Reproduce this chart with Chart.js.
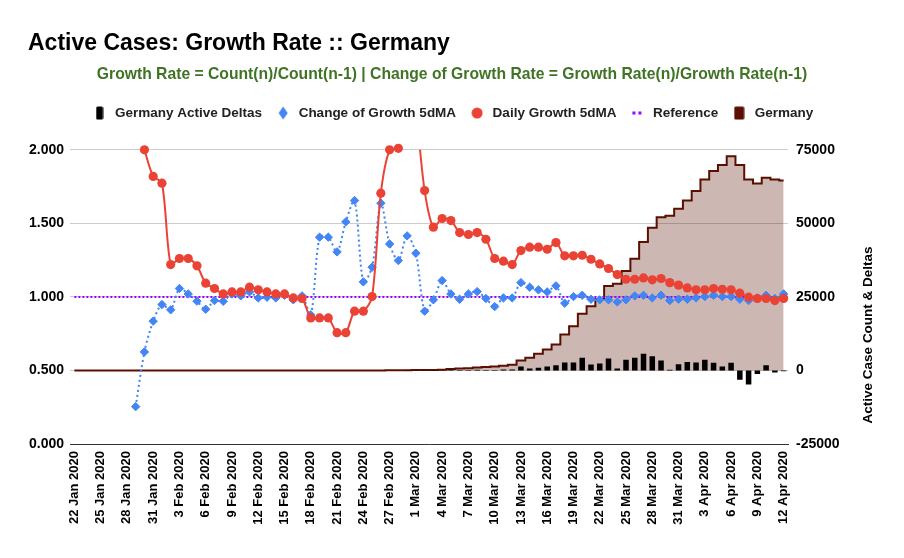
<!DOCTYPE html>
<html><head><meta charset="utf-8">
<script src="https://cdn.jsdelivr.net/npm/chart.js@4.4.1/dist/chart.umd.min.js"></script>
<style>html,body{margin:0;padding:0;background:#fff;}canvas{display:block;}</style>
</head><body>
<canvas id="c" width="904" height="558"></canvas>
<script>
const categories = [
'22 Jan 2020','23 Jan 2020','24 Jan 2020','25 Jan 2020','26 Jan 2020','27 Jan 2020','28 Jan 2020','29 Jan 2020','30 Jan 2020','31 Jan 2020',
'1 Feb 2020','2 Feb 2020','3 Feb 2020','4 Feb 2020','5 Feb 2020','6 Feb 2020','7 Feb 2020','8 Feb 2020','9 Feb 2020','10 Feb 2020',
'11 Feb 2020','12 Feb 2020','13 Feb 2020','14 Feb 2020','15 Feb 2020','16 Feb 2020','17 Feb 2020','18 Feb 2020','19 Feb 2020','20 Feb 2020',
'21 Feb 2020','22 Feb 2020','23 Feb 2020','24 Feb 2020','25 Feb 2020','26 Feb 2020','27 Feb 2020','28 Feb 2020','29 Feb 2020',
'1 Mar 2020','2 Mar 2020','3 Mar 2020','4 Mar 2020','5 Mar 2020','6 Mar 2020','7 Mar 2020','8 Mar 2020','9 Mar 2020','10 Mar 2020',
'11 Mar 2020','12 Mar 2020','13 Mar 2020','14 Mar 2020','15 Mar 2020','16 Mar 2020','17 Mar 2020','18 Mar 2020','19 Mar 2020','20 Mar 2020',
'21 Mar 2020','22 Mar 2020','23 Mar 2020','24 Mar 2020','25 Mar 2020','26 Mar 2020','27 Mar 2020','28 Mar 2020','29 Mar 2020','30 Mar 2020','31 Mar 2020',
'1 Apr 2020','2 Apr 2020','3 Apr 2020','4 Apr 2020','5 Apr 2020','6 Apr 2020','7 Apr 2020','8 Apr 2020','9 Apr 2020','10 Apr 2020','11 Apr 2020','12 Apr 2020'
];

const activeDeltas = [
0,0,0,0,0,1,3,0,0,1,
3,2,2,0,0,0,1,0,1,0,
2,0,0,0,0,0,0,-4,-2,-4,
-4,0,0,0,0,10,18,2,31,51,
29,37,66,220,188,129,239,128,150,300,
350,1360,700,900,1360,1800,2700,2700,4300,2000,
2400,4100,700,3600,4300,5700,4800,3400,200,2100,
2900,2700,3600,2600,1300,2600,-3200,-4800,-1200,1800,
-700,-300
];

const changeOfGrowth = [
null,null,null,null,null,null,null,
0.254,0.626,0.835,0.948,0.912,1.057,1.020,0.971,0.916,0.975,
0.970,1.020,1.007,1.034,0.993,0.998,0.993,1.011,0.980,1.007,
0.878,1.406,1.406,1.306,1.510,1.655,1.102,1.202,1.637,1.360,
1.247,1.415,1.297,0.903,0.980,1.111,1.020,0.984,1.020,1.036,
0.989,0.934,0.993,0.993,1.097,1.066,1.048,1.034,1.075,0.957,
1.002,1.011,0.984,0.980,0.980,0.966,0.980,1.007,1.011,0.993,
1.011,0.975,0.984,0.984,0.993,1.002,1.011,1.002,1.002,0.984,
0.975,0.993,1.011,0.989,1.020
];

const dailyGrowth = [
null,null,null,null,null,null,null,null,
2.000,1.819,1.773,1.220,1.261,1.261,1.211,1.093,1.057,1.020,
1.034,1.034,1.066,1.048,1.034,1.020,1.020,0.993,0.989,0.857,
0.857,0.857,0.757,0.757,0.903,0.903,1.002,1.705,2.000,2.010,
2.500,2.250,1.723,1.474,1.533,1.519,1.437,1.424,1.437,1.392,
1.261,1.243,1.220,1.315,1.338,1.338,1.324,1.369,1.279,1.279,
1.283,1.256,1.224,1.193,1.152,1.120,1.120,1.129,1.116,1.125,
1.097,1.080,1.061,1.048,1.048,1.057,1.052,1.048,1.025,0.998,
0.989,0.989,0.975,0.989
];

const reference = [
1,1,1,1,1,1,1,1,1,1, 1,1,1,1,1,1,1,1,1,1, 1,1,1,1,1,1,1,1,1,1,
1,1,1,1,1,1,1,1,1,1, 1,1,1,1,1,1,1,1,1,1, 1,1,1,1,1,1,1,1,1,1,
1,1,1,1,1,1,1,1,1,1, 1,1,1,1,1,1,1,1,1,1, 1,1
];

const germanyActive = [
0,0,0,0,0,1,4,4,4,5,
8,10,12,12,12,12,13,13,14,14,
16,16,16,16,16,16,16,12,10,6,
2,2,2,2,2,12,30,32,63,114,
143,180,246,466,654,783,1022,1150,1300,1600,
1950,3400,4300,5700,7100,8800,12200,15000,19300,21800,
24300,28700,29500,33800,38000,43700,48500,52100,52600,55000,
57800,61000,64900,67800,69800,72800,69800,64900,63500,65500,
64900,64600
];

const seriesNames = ['Germany Active Deltas','Change of Growth 5dMA','Daily Growth 5dMA','Reference','Germany'];
const leftTickStep = 0.5;
const rightTickStep = 25000;

const FONT = "'Liberation Sans', Arial, sans-serif";
Chart.defaults.font.family = FONT;
Chart.defaults.font.weight = 'bold';
Chart.defaults.color = '#000';

const RED = '#ea4335', BLUE = '#4285f4', PURPLE = '#9900ff', BROWN = '#5b0f00';

function marker(w, h, draw) {
  const c = document.createElement('canvas');
  c.width = w; c.height = h;
  draw(c.getContext('2d'));
  return c;
}
function rrect(g, x, y, w, h, r) {
  g.beginPath();
  g.moveTo(x + r, y); g.lineTo(x + w - r, y); g.quadraticCurveTo(x + w, y, x + w, y + r);
  g.lineTo(x + w, y + h - r); g.quadraticCurveTo(x + w, y + h, x + w - r, y + h);
  g.lineTo(x + r, y + h); g.quadraticCurveTo(x, y + h, x, y + h - r);
  g.lineTo(x, y + r); g.quadraticCurveTo(x, y, x + r, y);
  g.closePath(); g.fill();
}
const legendMarkers = {
  0: marker(8, 14, g => { g.fillStyle = '#000'; rrect(g, 0.5, 0.5, 7, 13, 1.5); }),
  1: marker(10, 14, g => { g.fillStyle = BLUE; g.beginPath(); g.moveTo(5, 0.5); g.lineTo(9.5, 7); g.lineTo(5, 13.5); g.lineTo(0.5, 7); g.closePath(); g.fill(); }),
  2: marker(12, 12, g => { g.fillStyle = RED; g.beginPath(); g.arc(6, 6, 5.5, 0, Math.PI * 2); g.fill(); }),
  4: marker(12, 4, g => { g.fillStyle = PURPLE; g.fillRect(1, 0.5, 3, 3); g.fillRect(7, 0.5, 3, 3); }),
  5: marker(11, 14, g => { g.fillStyle = BROWN; rrect(g, 0.5, 0.5, 10, 13, 1.5); })
};

const rightTitlePlugin = {
  id: 'rightTitle',
  afterDraw(chart) {
    const { ctx, chartArea } = chart;
    const s = chart.scales.y1;
    ctx.save();
    ctx.translate(s.right - 8, (chartArea.top + chartArea.bottom) / 2 + 38);
    ctx.rotate(-Math.PI / 2);
    ctx.font = "bold 13.5px " + FONT;
    ctx.fillStyle = '#000';
    ctx.textAlign = 'center';
    ctx.textBaseline = 'middle';
    ctx.fillText('Active Case Count & Deltas', 0, 0);
    ctx.restore();
  }
};
const legendGapPlugin = {
  id: 'legendGap',
  beforeInit(chart) {
    const l = chart.legend;
    if (!l) return;
    const fit = l.fit;
    l.fit = function () { fit.call(this); this.height += 20; };
  }
};

new Chart(document.getElementById('c'), {
  type: 'bar',
  data: {
    labels: categories,
    datasets: [
      { type: 'bar', label: seriesNames[0], data: activeDeltas, yAxisID: 'y1', backgroundColor: '#000',
        barPercentage: 0.63, categoryPercentage: 1, order: 4 },
      { type: 'line', label: seriesNames[1], data: changeOfGrowth, yAxisID: 'y', borderColor: BLUE, backgroundColor: BLUE,
        borderWidth: 2, borderDash: [2, 3], tension: 0.3, pointStyle: 'rectRot', pointRadius: 4.2, pointBorderWidth: 1,
        pointBackgroundColor: BLUE, pointBorderColor: BLUE, order: 2, fill: false },
      { type: 'line', label: seriesNames[2], data: dailyGrowth, yAxisID: 'y', borderColor: RED, backgroundColor: RED,
        borderWidth: 2, tension: 0.3, pointRadius: 0, pointStyle: 'circle', order: 1, fill: false,
        clip: { left: 6, top: 0, right: 6, bottom: 6 } },
      { type: 'line', label: seriesNames[2], data: dailyGrowth.map(v => (v !== null && v <= 2.05) ? v : null), yAxisID: 'y',
        showLine: false, pointStyle: 'circle', pointRadius: 4.6, pointBorderWidth: 0, pointBackgroundColor: RED,
        backgroundColor: RED, borderColor: RED, order: 0, clip: false, hideLegend: true },
      { type: 'line', label: seriesNames[3], data: reference, yAxisID: 'y', borderColor: PURPLE, backgroundColor: PURPLE,
        borderWidth: 2, borderDash: [2, 2], pointRadius: 0, order: 3, fill: false },
      { type: 'line', label: seriesNames[4], data: germanyActive, yAxisID: 'y1', borderColor: BROWN,
        backgroundColor: 'rgba(91,15,0,0.3)', borderWidth: 2, stepped: 'middle', pointRadius: 0, fill: 'origin', order: 5 }
    ]
  },
  options: {
    responsive: false,
    animation: false,
    devicePixelRatio: 1,
    layout: { padding: { top: 10, left: 28, right: 28, bottom: 0 } },
    plugins: {
      tooltip: { enabled: false },
      title: { display: true, text: 'Active Cases: Growth Rate :: Germany', align: 'start', color: '#000',
        font: { size: 23, weight: 'bold' }, padding: { top: 19.7, bottom: 8.3 } },
      subtitle: { display: true, text: 'Growth Rate = Count(n)/Count(n-1) | Change of Growth Rate = Growth Rate(n)/Growth Rate(n-1)',
        color: '#3f7424', font: { size: 15.7, weight: 'bold' }, padding: { top: 0, bottom: 9.6 } },
      legend: {
        position: 'top',
        labels: {
          usePointStyle: true, pointStyleWidth: 17.5, padding: 12.25, color: '#222',
          font: { size: 13.5, weight: 'bold' },
          sort: (a, b) => a.datasetIndex - b.datasetIndex,
          filter: (item, data) => !data.datasets[item.datasetIndex].hideLegend,
          generateLabels(chart) {
            const items = Chart.defaults.plugins.legend.labels.generateLabels(chart);
            items.forEach(it => { if (legendMarkers[it.datasetIndex]) it.pointStyle = legendMarkers[it.datasetIndex]; });
            return items;
          }
        }
      }
    },
    scales: {
      x: {
        offset: true,
        grid: { display: false, drawTicks: false },
        border: { display: true, color: '#333', width: 1 },
        ticks: {
          autoSkip: false, maxRotation: 90, minRotation: 90, padding: 7, color: '#000',
          font: { size: 13, weight: 'bold' },
          callback(v, i) { return i % 3 === 0 ? this.getLabelForValue(v) : ''; }
        },
        afterFit(s) { s.height = 114; }
      },
      y: {
        position: 'left', min: 0, max: 2,
        ticks: { stepSize: leftTickStep, padding: 6, color: '#000', font: { size: 14, weight: 'bold' }, callback: v => Number(v).toFixed(3) },
        grid: { color: '#cccccc', drawTicks: false },
        border: { display: false },
        afterFit(s) { s.width = 42; }
      },
      y1: {
        position: 'right', min: -25000, max: 75000,
        ticks: { stepSize: rightTickStep, padding: 8, color: '#000', font: { size: 14, weight: 'bold' }, callback: v => String(v) },
        grid: { display: false, drawTicks: false },
        border: { display: false },
        afterFit(s) { s.width = 88; }
      }
    }
  },
  plugins: [legendGapPlugin, rightTitlePlugin]
});
</script>
</body></html>
